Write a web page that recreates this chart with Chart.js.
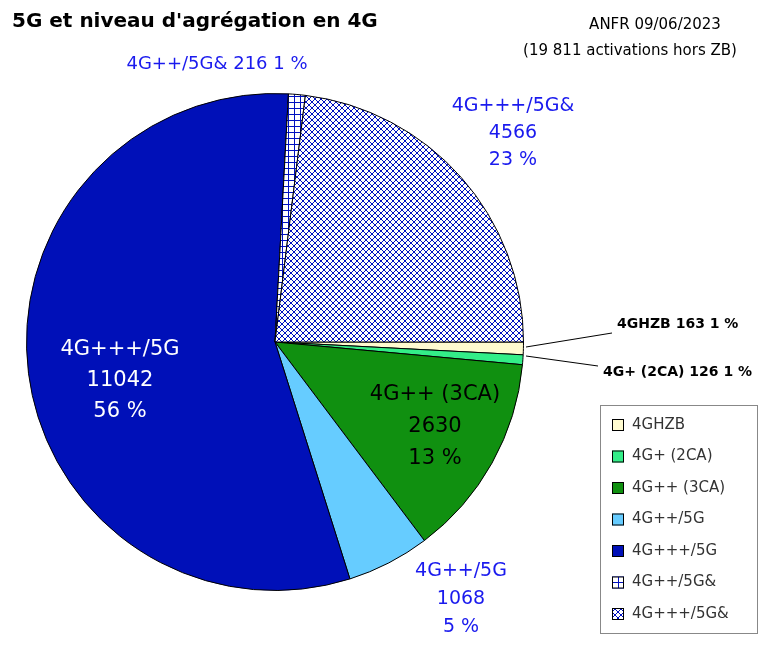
<!DOCTYPE html>
<html><head><meta charset="utf-8">
<script src="https://cdn.jsdelivr.net/npm/chart.js@4"></script>
<style>body{margin:0;background:#fff}canvas{display:block}</style>
</head><body>
<canvas id="c" width="769" height="650"></canvas>
<script>
const categories = ['4GHZB', '4G+ (2CA)', '4G++ (3CA)', '4G++/5G', '4G+++/5G', '4G++/5G&', '4G+++/5G&'];
const values = [163, 126, 2630, 1068, 11042, 216, 4566];
const percents = ['1 %', '1 %', '13 %', '5 %', '56 %', '1 %', '23 %'];

function motif(type) {
    const p = document.createElement('canvas');
    p.width = 6; p.height = 6;
    const g = p.getContext('2d');
    g.fillStyle = '#fff'; g.fillRect(0, 0, 6, 6);
    g.strokeStyle = '#0010c0'; g.lineWidth = 1;
    g.beginPath();
    if (type === 'grid') {
        g.moveTo(0, 0.5); g.lineTo(6, 0.5);
        g.moveTo(0.5, 0); g.lineTo(0.5, 6);
    } else {
        g.moveTo(0, 0); g.lineTo(6, 6);
        g.moveTo(6, 0); g.lineTo(0, 6);
    }
    g.stroke();
    return g.createPattern(p, 'repeat');
}

const couleurs = ['#fffbd0', '#33ee88', '#109010', '#66ccff', '#0010b8', motif('grid'), motif('cross')];

function txt(ctx, s, x, y, font, color, align) {
    ctx.font = font; ctx.fillStyle = color; ctx.textAlign = align || 'center';
    ctx.textBaseline = 'middle'; ctx.fillText(s, x, y);
}

const decor = {
    id: 'decor',
    afterDraw(chart) {
        const ctx = chart.ctx;
        ctx.save();
        const F = '"DejaVu Sans", sans-serif';
        const bleu = '#1a1aee';
        txt(ctx, "5G et niveau d'agrégation en 4G", 12, 22, 'bold 20px ' + F, '#000', 'left');
        txt(ctx, 'ANFR 09/06/2023', 655, 25, '15px ' + F, '#000');
        txt(ctx, '(19 811 activations hors ZB)', 630, 51, '15px ' + F, '#000');
        txt(ctx, categories[5] + ' ' + values[5] + ' ' + percents[5], 217, 64, '18px ' + F, bleu);
        [categories[6], values[6], percents[6]].forEach((s, i) => txt(ctx, String(s), 513, 106 + i * 27, '19px ' + F, bleu));
        [categories[4], values[4], percents[4]].forEach((s, i) => txt(ctx, String(s), 120, 350 + i * 31, '21px ' + F, '#fff'));
        [categories[2], values[2], percents[2]].forEach((s, i) => txt(ctx, String(s), 435, 395 + i * 32, '21px ' + F, '#000'));
        [categories[3], values[3], percents[3]].forEach((s, i) => txt(ctx, String(s), 461, 571 + i * 28, '19px ' + F, bleu));
        txt(ctx, categories[0] + ' ' + values[0] + ' ' + percents[0], 617, 324, 'bold 14px ' + F, '#000', 'left');
        txt(ctx, categories[1] + ' ' + values[1] + ' ' + percents[1], 603, 372, 'bold 14px ' + F, '#000', 'left');
        ctx.strokeStyle = '#000'; ctx.lineWidth = 1;
        ctx.beginPath();
        ctx.moveTo(526, 347); ctx.lineTo(612, 333);
        ctx.moveTo(526, 356); ctx.lineTo(598, 366);
        ctx.stroke();
        // légende
        ctx.fillStyle = '#fff'; ctx.strokeStyle = '#888';
        ctx.fillRect(600, 405, 157, 228); ctx.strokeRect(600.5, 405.5, 157, 228);
        categories.forEach((c, i) => {
            const y = 425 + i * 31.5;
            ctx.fillStyle = couleurs[i];
            ctx.fillRect(612, y - 6, 12, 12);
            ctx.strokeStyle = '#000'; ctx.strokeRect(612.5, y - 5.5, 11, 11);
            txt(ctx, c, 632, y, '15px ' + F, '#333', 'left');
        });
        ctx.restore();
    }
};

new Chart(document.getElementById('c'), {
    type: 'pie',
    data: {
        labels: categories,
        datasets: [{
            data: values,
            backgroundColor: couleurs,
            borderColor: '#000',
            borderWidth: 1
        }]
    },
    options: {
        responsive: false,
        animation: false,
        rotation: 90,
        layout: { padding: { left: 26, right: 245, top: 93, bottom: 59 } },
        plugins: { legend: { display: false }, tooltip: { enabled: false } }
    },
    plugins: [decor]
});
</script>
</body></html>
